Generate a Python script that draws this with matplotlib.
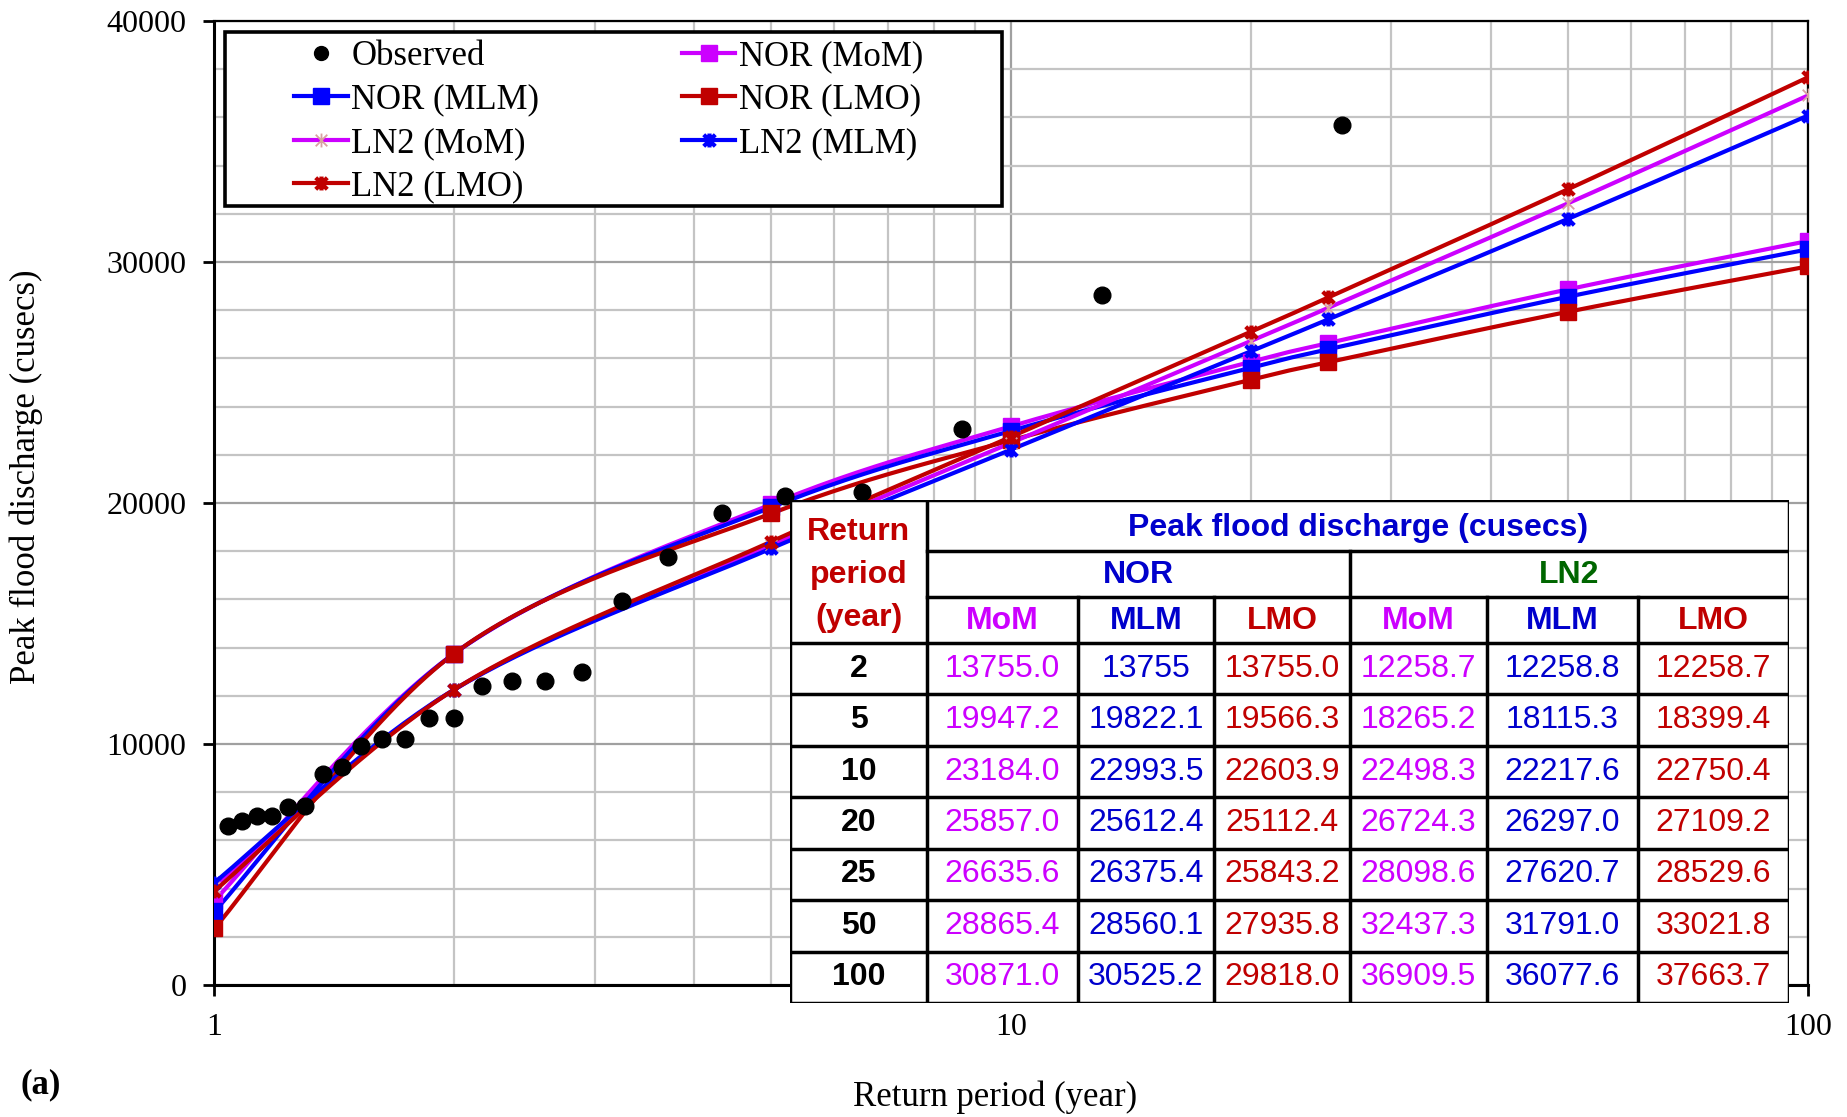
import numpy as np
import matplotlib
matplotlib.use('Agg')
import matplotlib.pyplot as plt
from matplotlib.lines import Line2D
from matplotlib.path import Path
from matplotlib.patches import Rectangle
from matplotlib.ticker import MultipleLocator, LogLocator, NullFormatter, FixedLocator

# observed annual peaks (Weibull plotting positions)
obs_T = [1.04, 1.083, 1.13, 1.182, 1.238, 1.3, 1.368, 1.444, 1.529, 1.625, 1.733, 1.857, 2.0,
         2.167, 2.364, 2.6, 2.889, 3.25, 3.714, 4.333, 5.2, 6.5, 8.667, 13.0, 26.0]
obs_Q = [6600, 6800, 7010, 7010, 7400, 7430, 8750, 9060, 9930, 10200, 10210, 11090, 11090,
         12410, 12610, 12610, 13000, 15940, 17770, 19570, 20270, 20450, 23080, 28650, 35690]

# fitted quantiles (first value at T=1, rest from the table)
fit_T = [1, 2, 5, 10, 20, 25, 50, 100]
nor_mom = [3500, 13755.0, 19947.2, 23184.0, 25857.0, 26635.6, 28865.4, 30871.0]
nor_mlm = [3050, 13755, 19822.1, 22993.5, 25612.4, 26375.4, 28560.1, 30525.2]
nor_lmo = [2350, 13755.0, 19566.3, 22603.9, 25112.4, 25843.2, 27935.8, 29818.0]
ln2_mom = [4050, 12258.7, 18265.2, 22498.3, 26724.3, 28098.6, 32437.3, 36909.5]
ln2_mlm = [4250, 12258.8, 18115.3, 22217.6, 26297.0, 27620.7, 31791.0, 36077.6]
ln2_lmo = [3900, 12258.7, 18399.4, 22750.4, 27109.2, 28529.6, 33021.8, 37663.7]

MAG = '#CC00FF'
BLUE = '#0000FF'
RED = '#C00000'
TBLUE = '#0000CC'
GREEN = '#006600'
PINK = '#D9A0A0'

SERIF = 'Liberation Serif'
SANS = 'Liberation Sans'

star = Path([(-1, -1), (1, 1), (-1, 1), (1, -1), (0, -1.2), (0, 1.2)],
            [Path.MOVETO, Path.LINETO, Path.MOVETO, Path.LINETO, Path.MOVETO, Path.LINETO])


def smooth(x, y, n=40):
    """Excel-like smoothed line (cubic Bezier, 1/6 tension) in log-x space."""
    lx = np.log10(np.asarray(x, float))
    y = np.asarray(y, float)
    px = np.r_[lx[0], lx, lx[-1]]
    py = np.r_[y[0], y, y[-1]]
    t = np.linspace(0, 1, n)[:, None]
    xs, ys = [], []
    for i in range(1, len(px) - 2):
        p0 = np.array([px[i], py[i]])
        p3 = np.array([px[i + 1], py[i + 1]])
        c1 = p0 + (p3 - np.array([px[i - 1], py[i - 1]])) / 6
        c2 = p3 - (np.array([px[i + 2], py[i + 2]]) - p0) / 6
        b = (1 - t) ** 3 * p0 + 3 * (1 - t) ** 2 * t * c1 + 3 * (1 - t) * t ** 2 * c2 + t ** 3 * p3
        xs.append(b[:, 0])
        ys.append(b[:, 1])
    return 10 ** np.concatenate(xs), np.concatenate(ys)


W, H = 1847, 1117
fig = plt.figure(figsize=(W / 100, H / 100), dpi=100)
AX_L, AX_R, AX_T, AX_B = 214.4, 1808, 21, 985
ax = fig.add_axes([AX_L / W, 1 - AX_B / H, (AX_R - AX_L) / W, (AX_B - AX_T) / H])

series = [
    ('NOR (MoM)', nor_mom, MAG, 's', MAG, 1),
    ('NOR (MLM)', nor_mlm, BLUE, 's', BLUE, 1),
    ('NOR (LMO)', nor_lmo, RED, 's', RED, 1),
    ('LN2 (MoM)', ln2_mom, MAG, star, PINK, 1.3),
    ('LN2 (MLM)', ln2_mlm, BLUE, star, BLUE, 3),
    ('LN2 (LMO)', ln2_lmo, RED, star, RED, 3),
]

handles = {}
for name, vals, col, mk, mcol, mew in series:
    sx, sy = smooth(fit_T, vals)
    ax.plot(sx, sy, color=col, lw=3, zorder=3)
    ms = 12 if mk == 's' else 10
    ax.plot(fit_T, vals, ls='none', marker=mk, ms=ms, mfc=mcol, mec=mcol, mew=mew, zorder=4)
    handles[name] = Line2D([], [], color=col, lw=3, marker=mk, ms=ms, mfc=mcol, mec=mcol, mew=mew)

ax.plot(obs_T, obs_Q, ls='none', marker='o', ms=12, color='black', zorder=5)
handles['Observed'] = Line2D([], [], ls='none', marker='o', ms=10, color='black')

ax.set_xscale('log')
ax.set_xlim(1, 100)
ax.set_ylim(0, 40000)
ax.xaxis.set_major_locator(FixedLocator([1, 10, 100]))
ax.set_xticklabels(['1', '10', '100'])
ax.xaxis.set_minor_locator(LogLocator(base=10, subs=np.arange(2, 10)))
ax.xaxis.set_minor_formatter(NullFormatter())
ax.yaxis.set_major_locator(MultipleLocator(10000))
ax.yaxis.set_minor_locator(MultipleLocator(2000))
ax.grid(which='major', color='#A0A0A0', lw=1.6)
ax.grid(which='minor', color='#C4C4C4', lw=1.6)
ax.set_axisbelow(True)
ax.tick_params(which='minor', length=0)
ax.tick_params(which='major', direction='out', length=8, width=2, labelsize=23, pad=12)
for lab in ax.get_xticklabels() + ax.get_yticklabels():
    lab.set_family(SERIF)
for s in ['left', 'bottom']:
    ax.spines[s].set_linewidth(2.2)
for s in ['top', 'right']:
    ax.spines[s].set_linewidth(1.6)

fig.text(995 / W, 1 - 1097 / H, 'Return period (year)', family=SERIF, fontsize=25,
         ha='center', va='center')
fig.text(26 / W, 1 - 477 / H, 'Peak flood discharge (cusecs)', family=SERIF, fontsize=25,
         ha='center', va='center', rotation=90)
fig.text(20 / W, 1 - 1085 / H, '(a)', family=SERIF, fontsize=25, fontweight='bold', va='center')

# legend box drawn separately so it can have the wide side padding of the original
def ax_frac(px, py):
    return (px - AX_L) / (AX_R - AX_L), (AX_B - py) / (AX_B - AX_T)

bx0, by0 = ax_frac(225, 206)
bx1, by1 = ax_frac(1002, 32)
ax.add_patch(Rectangle((bx0, by0), bx1 - bx0, by1 - by0, transform=ax.transAxes,
                       facecolor='white', edgecolor='black', lw=2.6, zorder=9))

order = ['Observed', 'NOR (MLM)', 'LN2 (MoM)', 'LN2 (LMO)', 'NOR (MoM)', 'NOR (LMO)', 'LN2 (MLM)']
leg = ax.legend([handles[k] for k in order], order, ncol=2, loc='upper left',
                bbox_to_anchor=ax_frac(294, 40), borderaxespad=0, frameon=False,
                prop={'family': SERIF, 'size': 25},
                handlelength=1.55, handletextpad=0.1, columnspacing=4.1, labelspacing=0.3,
                borderpad=0, numpoints=1)
leg.set_zorder(10)

# ---- table of quantiles ----
x0, x1, y0, y1 = 790, 1789, 500, 1003
axt = fig.add_axes([x0 / W, 1 - y1 / H, (x1 - x0) / W, (y1 - y0) / H])
axt.set_xlim(x0, x1)
axt.set_ylim(y1, y0)
axt.axis('off')
axt.add_patch(Rectangle((x0, y0), x1 - x0, y1 - y0, facecolor='white', edgecolor='none'))

cols = [x0, 927, 1078, 1214, 1350, 1487, 1638, x1]
r_data = list(np.linspace(643, y1, len(fit_T)))

lw = 2.5
for y in r_data:
    axt.plot([x0, x1], [y, y], color='black', lw=lw)
axt.plot([x0, x1], [y0, y0], color='black', lw=lw)
axt.plot([cols[1], x1], [551, 551], color='black', lw=lw)
axt.plot([cols[1], x1], [597, 597], color='black', lw=lw)
axt.plot([x0, x0], [y0, y1], color='black', lw=lw)
axt.plot([x1, x1], [y0, y1], color='black', lw=lw)
axt.plot([cols[1], cols[1]], [y0, y1], color='black', lw=lw)
axt.plot([cols[4], cols[4]], [551, y1], color='black', lw=lw)
for c in [cols[2], cols[3], cols[5], cols[6]]:
    axt.plot([c, c], [597, y1], color='black', lw=lw)

bold = dict(family=SANS, fontweight='bold', fontsize=23, ha='center', va='center')
axt.text((cols[0] + cols[1]) / 2, 575, 'Return\nperiod\n(year)', color=RED,
         linespacing=1.55, **bold)
axt.text((cols[1] + x1) / 2, 528, 'Peak flood discharge (cusecs)', color=TBLUE, **bold)
axt.text((cols[1] + cols[4]) / 2, 575, 'NOR', color=TBLUE, **bold)
axt.text((cols[4] + x1) / 2, 575, 'LN2', color=GREEN, **bold)
meth_cols = [MAG, TBLUE, RED] * 2
for j, m in enumerate(['MoM', 'MLM', 'LMO'] * 2):
    axt.text((cols[j + 1] + cols[j + 2]) / 2, 621, m, color=meth_cols[j], **bold)

table_series = [nor_mom, nor_mlm, nor_lmo, ln2_mom, ln2_mlm, ln2_lmo]
for i, T in enumerate(fit_T[1:]):
    yc = (r_data[i] + r_data[i + 1]) / 2
    axt.text((cols[0] + cols[1]) / 2, yc, str(T), color='black', **bold)
    for j, vals in enumerate(table_series):
        v = vals[i + 1]
        txt = str(v) if isinstance(v, int) else f'{v:.1f}'
        axt.text((cols[j + 1] + cols[j + 2]) / 2, yc, txt, color=meth_cols[j], family=SANS,
                 fontsize=23, ha='center', va='center')

fig.savefig('out.png', dpi=100)
